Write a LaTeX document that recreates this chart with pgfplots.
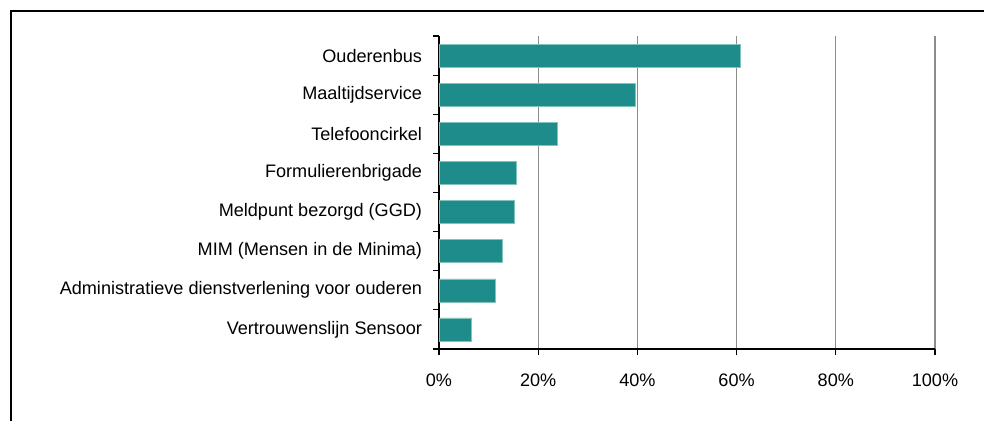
\documentclass[border=0pt]{standalone}
\usepackage{pgfplots}
\pgfplotsset{compat=1.18}
\usepackage{fontspec}
\setmainfont{Liberation Sans}
\definecolor{barteal}{RGB}{29,140,138}
\definecolor{baredge}{RGB}{130,195,190}
\definecolor{gridgray}{RGB}{140,140,140}
\begin{document}
\begin{tikzpicture}[x=1bp,y=1bp]
\useasboundingbox (0,0) rectangle (984,421);
\draw[line width=1.8bp] (11,0) -- (11,410) -- (984,410);
\begin{axis}[
  at={(439bp,72bp)}, anchor=south west,
  scale only axis, width=496bp, height=313bp,
  xmin=0, xmax=100, ymin=-0.5, ymax=7.5,
  y dir=reverse,
  axis x line*=bottom, axis y line*=left,
  axis line style={line width=1.2bp, -},
  xtick={0,20,40,60,80,100},
  xticklabels={0\%,20\%,40\%,60\%,80\%,100\%},
  ytick={0,...,7},
  yticklabels={Ouderenbus,Maaltijdservice,Telefooncirkel,Formulierenbrigade,Meldpunt bezorgd (GGD),MIM (Mensen in de Minima),Administratieve dienstverlening voor ouderen,Vertrouwenslijn Sensoor},
  minor ytick={-0.5,0.5,...,7.5},
  tick align=outside,
  major tick length=6bp, minor tick length=6bp,
  major y tick style={draw=none},
  minor y tick style={draw=black, line width=1.2bp},
  major x tick style={draw=black, line width=1.2bp},
  xmajorgrids,
  grid style={gridgray, line width=1.1bp},
  tick label style={font=\fontsize{18.1bp}{21bp}\selectfont, text=black},
  yticklabel style={xshift=-7.5bp},
  xticklabel style={yshift=-15bp},
  clip=false,
]
\addplot[xbar, bar width=23bp, fill=barteal, draw=baredge, line width=0.6bp] coordinates {
 (60.7,0) (39.5,1) (23.9,2) (15.5,3) (15.1,4) (12.7,5) (11.4,6) (6.6,7)
};
\end{axis}
\end{tikzpicture}
\end{document}
